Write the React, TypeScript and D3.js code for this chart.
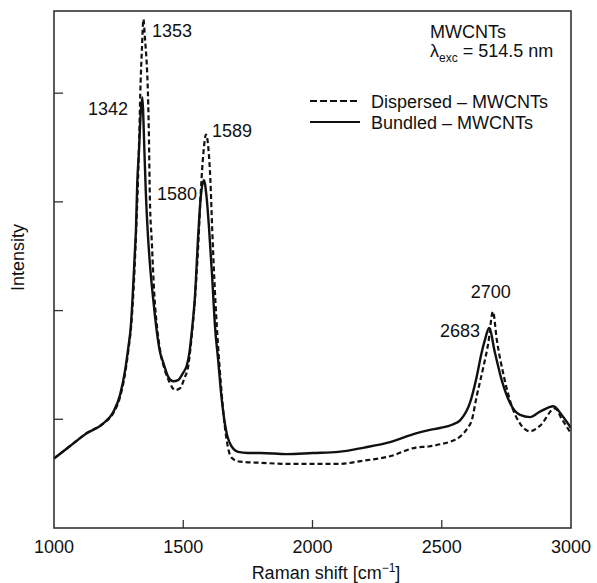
import React from 'react';
import * as d3 from 'd3';

const W = 597;
const H = 583;
const M = { left: 54, right: 26, top: 11, bottom: 55 };

const xDomain = [1000, 3000];
const yDomain = [0, 4.756];
const xTickValues = [1000, 1500, 2000, 2500, 3000];
const xInnerTicks = [1500, 2000, 2500];
const yTickValues = [1, 2, 3, 4];

const bundledShift = [
  1000, 1060, 1125, 1190, 1230, 1255, 1275, 1288, 1297, 1304, 1312, 1317, 1322, 1329, 1335, 1342,
  1346, 1350, 1355, 1362, 1372, 1384, 1397, 1410, 1423, 1442, 1462, 1480, 1500, 1513, 1523, 1535,
  1545, 1558, 1568, 1580, 1590, 1600, 1612, 1623, 1636, 1646, 1655, 1670, 1687, 1712, 1750, 1800,
  1900, 2000, 2100, 2200, 2300, 2400, 2450, 2493, 2540, 2571, 2609, 2635, 2654, 2667, 2683, 2706,
  2732, 2764, 2803, 2841, 2880, 2932, 2964, 3000,
];
const bundledIntensity = [
  0.64, 0.75, 0.87, 0.96, 1.07, 1.22, 1.45, 1.67, 1.85, 2.12, 2.5, 2.74, 3.17, 3.48, 3.8, 3.96,
  3.75, 3.45, 3.1, 2.75, 2.4, 2.1, 1.82, 1.62, 1.52, 1.39, 1.35, 1.36, 1.43, 1.49, 1.6, 1.85,
  2.12, 2.7, 3.05, 3.2, 3.05, 2.75, 2.3, 1.85, 1.52, 1.25, 1.06, 0.85, 0.75, 0.7, 0.69, 0.69,
  0.68, 0.69, 0.7, 0.74, 0.79, 0.87, 0.9, 0.92, 0.95, 0.99, 1.15, 1.39, 1.61, 1.73, 1.84, 1.61,
  1.36, 1.15, 1.04, 1.02, 1.07, 1.12, 1.04, 0.92,
];

const dispersedShift = [
  1000, 1060, 1125, 1190, 1230, 1255, 1275, 1288, 1300, 1310, 1318, 1325, 1330, 1335, 1340, 1346,
  1352, 1358, 1362, 1367, 1371, 1378, 1388, 1400, 1413, 1428, 1447, 1468, 1485, 1505, 1520, 1532,
  1545, 1558, 1568, 1578, 1588, 1597, 1605, 1612, 1620, 1630, 1640, 1650, 1660, 1675, 1690, 1720,
  1800, 1900, 2000, 2100, 2200, 2300, 2400, 2450, 2493, 2540, 2571, 2600, 2616, 2635, 2661, 2680,
  2698, 2713, 2738, 2771, 2803, 2841, 2880, 2938, 2965, 3000,
];
const dispersedIntensity = [
  0.64, 0.75, 0.87, 0.96, 1.06, 1.2, 1.42, 1.64, 1.9, 2.3, 2.75, 3.2, 3.63, 4.1, 4.4, 4.68,
  4.5, 4.3, 4.1, 3.63, 3.02, 2.65, 2.15, 1.82, 1.6, 1.46, 1.34, 1.27, 1.28, 1.38, 1.5, 1.75,
  2.1, 2.6, 3.1, 3.45, 3.62, 3.5, 3.2, 2.75, 2.3, 1.85, 1.5, 1.2, 0.95, 0.72, 0.64, 0.61,
  0.6, 0.59, 0.59, 0.59, 0.62, 0.66, 0.74, 0.75, 0.77, 0.8, 0.84, 0.92, 0.99, 1.21, 1.48, 1.7,
  1.99, 1.73, 1.42, 1.12, 0.96, 0.89, 0.94, 1.1, 1.0, 0.87,
];

const peakText = ['1353', '1342', '1589', '1580', '2700', '2683'];
const peakShift = [1379, 1286, 1611, 1398, 2690, 2648];
const peakLevel = [4.517, 3.8, 3.597, 3.017, 2.116, 1.757];
const peakAnchor = ['start', 'end', 'start', 'start', 'middle', 'end'];

const seriesNames = ['Dispersed – MWCNTs', 'Bundled – MWCNTs'];

const FONT = '"Liberation Sans", Arial, Helvetica, sans-serif';
const INK = '#111';
const FS = 18;

export default function App() {
  const x = d3.scaleLinear().domain(xDomain).range([M.left, W - M.right]);
  const y = d3.scaleLinear().domain(yDomain).range([H - M.bottom, M.top]);

  const makePath = (xs: number[], ys: number[]) =>
    d3
      .line<number>()
      .x((_, i) => x(xs[i]))
      .y((_, i) => y(ys[i]))
      .curve(d3.curveMonotoneX)(xs) || '';

  const x0 = x(xDomain[0]);
  const x1 = x(xDomain[1]);
  const y0 = y(yDomain[0]);
  const y1 = y(yDomain[1]);

  return (
    <svg
      width={W}
      height={H}
      style={{ position: 'absolute', left: 0, top: 0, background: '#fff' }}
      fontFamily={FONT}
    >
      <rect x={0} y={0} width={W} height={H} fill="#fff" />
      {/* data lines */}
      <path
        d={makePath(dispersedShift, dispersedIntensity)}
        fill="none"
        stroke={INK}
        strokeWidth={2.2}
        strokeDasharray="5 3"
      />
      <path
        d={makePath(bundledShift, bundledIntensity)}
        fill="none"
        stroke={INK}
        strokeWidth={2.4}
      />
      {/* frame */}
      <rect x={x0} y={y1} width={x1 - x0} height={y0 - y1} fill="none" stroke="#333" strokeWidth={1.6} />
      {/* ticks */}
      {yTickValues.map((t) => (
        <line key={'yt' + t} x1={x0} x2={x0 + 9} y1={y(t)} y2={y(t)} stroke="#333" strokeWidth={1.3} />
      ))}
      {xInnerTicks.map((t) => (
        <line key={'xt' + t} x1={x(t)} x2={x(t)} y1={y0} y2={y0 - 8} stroke="#333" strokeWidth={1.3} />
      ))}
      {xTickValues.map((t) => (
        <text key={'xl' + t} x={x(t)} y={y0 + 25} textAnchor="middle" fontSize={FS} fill={INK}>
          {t}
        </text>
      ))}
      {/* axis titles */}
      <text x={326} y={579} textAnchor="middle" fontSize={FS} fill={INK}>
        Raman shift [cm
        <tspan dy={-7} fontSize={12}>−1</tspan>
        <tspan dy={7}>]</tspan>
      </text>
      <text
        transform={`translate(24,${(y0 + y1) / 2 - 12}) rotate(-90)`}
        textAnchor="middle"
        fontSize={FS}
        fill={INK}
      >
        Intensity
      </text>
      {/* peak labels */}
      {peakText.map((t, i) => (
        <text
          key={'pk' + t}
          x={x(peakShift[i])}
          y={y(peakLevel[i])}
          textAnchor={peakAnchor[i] as any}
          fontSize={FS}
          fill={INK}
        >
          {t}
        </text>
      ))}
      {/* annotation */}
      <text x={430} y={38} fontSize={FS} fill={INK}>MWCNTs</text>
      <text x={430} y={57} fontSize={FS} fill={INK}>
        λ<tspan dy={5} fontSize={12}>exc</tspan>
        <tspan dy={-5}> = 514.5 nm</tspan>
      </text>
      {/* legend */}
      <line x1={310} x2={360} y1={101} y2={101} stroke={INK} strokeWidth={2} strokeDasharray="7 3" />
      <text x={371} y={108} fontSize={FS} fill={INK}>{seriesNames[0]}</text>
      <line x1={310} x2={360} y1={122} y2={122} stroke={INK} strokeWidth={2} />
      <text x={371} y={129} fontSize={FS} fill={INK}>{seriesNames[1]}</text>
    </svg>
  );
}
